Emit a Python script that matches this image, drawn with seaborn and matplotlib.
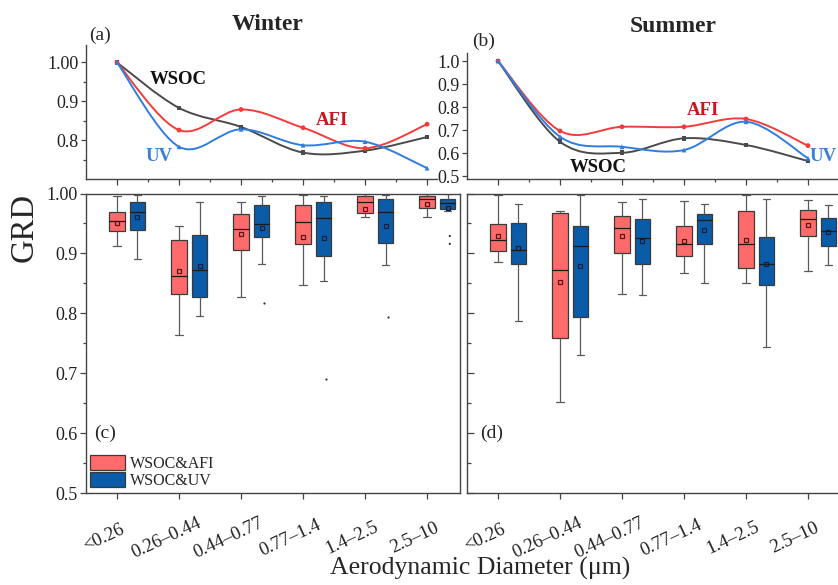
import numpy as np
import pandas as pd
import seaborn as sns
import matplotlib.pyplot as plt
import matplotlib.transforms as mtransforms
from matplotlib.path import Path
from matplotlib.patches import PathPatch
from matplotlib.ticker import FixedLocator, NullFormatter

sizes = ["<0.26", "0.26–0.44", "0.44–0.77", "0.77–1.4", "1.4–2.5", "2.5–10"]
series = ["WSOC", "AFI", "UV"]
pairs = ["WSOC&AFI", "WSOC&UV"]

# normalised lines (top panels)
winter_wsoc = [1.00, 0.883, 0.834, 0.768, 0.773, 0.808]
winter_afi = [1.00, 0.826, 0.879, 0.832, 0.779, 0.841]
winter_uv = [1.00, 0.783, 0.828, 0.787, 0.796, 0.728]
summer_wsoc = [1.00, 0.649, 0.601, 0.664, 0.635, 0.565]
summer_afi = [1.00, 0.696, 0.714, 0.714, 0.748, 0.632]
summer_uv = [1.00, 0.671, 0.627, 0.613, 0.736, 0.577]

# box stats: (lower whisker, q1, median, q3, upper whisker)
winter_afi_box = [(0.913, 0.937, 0.954, 0.969, 0.996), (0.763, 0.832, 0.862, 0.923, 0.945),
                  (0.827, 0.905, 0.940, 0.966, 0.985), (0.847, 0.915, 0.952, 0.980, 0.997),
                  (0.960, 0.968, 0.985, 0.995, 0.999), (0.960, 0.975, 0.990, 0.995, 0.999)]
winter_uv_box = [(0.890, 0.939, 0.969, 0.986, 0.997), (0.796, 0.828, 0.873, 0.931, 0.986),
                 (0.882, 0.928, 0.949, 0.980, 0.996), (0.854, 0.896, 0.959, 0.986, 0.996),
                 (0.881, 0.918, 0.969, 0.990, 0.997), (0.971, 0.974, 0.984, 0.990, 0.999)]
summer_afi_box = [(0.885, 0.904, 0.922, 0.949, 0.997), (0.652, 0.759, 0.873, 0.967, 0.970),
                  (0.833, 0.900, 0.942, 0.963, 0.985), (0.867, 0.895, 0.916, 0.945, 0.988),
                  (0.850, 0.875, 0.916, 0.970, 0.997), (0.871, 0.929, 0.957, 0.972, 0.989)]
summer_uv_box = [(0.787, 0.883, 0.905, 0.951, 0.982), (0.730, 0.793, 0.912, 0.945, 0.997),
                 (0.831, 0.883, 0.926, 0.957, 0.991), (0.850, 0.915, 0.955, 0.966, 0.982),
                 (0.744, 0.848, 0.883, 0.927, 0.991), (0.881, 0.913, 0.938, 0.959, 0.980)]

winter_afi_mean = [0.950, 0.871, 0.932, 0.927, 0.974, 0.982]
winter_uv_mean = [0.961, 0.879, 0.942, 0.926, 0.946, 0.975]
summer_afi_mean = [0.929, 0.853, 0.929, 0.921, 0.922, 0.947]
summer_uv_mean = [0.909, 0.879, 0.921, 0.939, 0.882, 0.935]

# outliers (all in the WSOC&UV group, winter)
winter_uv_out_size = ["0.44–0.77", "0.77–1.4", "1.4–2.5", "2.5–10", "2.5–10"]
winter_uv_out = [0.817, 0.690, 0.794, 0.929, 0.916]

line_colors = {"WSOC": "#4a4a4a", "AFI": "#f23c3c", "UV": "#2f7de1"}
label_colors = {"WSOC": "#111111", "AFI": "#c8161d", "UV": "#3a7fd5"}
box_colors = {"WSOC&AFI": "#ff6b6b", "WSOC&UV": "#0b5ca8"}

sns.set_theme(style="ticks")
plt.rcParams["font.family"] = ["Liberation Serif", "DejaVu Serif"]
plt.rcParams["axes.edgecolor"] = "#444444"
plt.rcParams["axes.linewidth"] = 1.0
plt.rcParams["xtick.color"] = "#444444"
plt.rcParams["ytick.color"] = "#444444"
plt.rcParams["xtick.labelcolor"] = "#222222"
plt.rcParams["ytick.labelcolor"] = "#222222"

W, H = 838, 585
fig = plt.figure(figsize=(W / 100, H / 100), dpi=100)


def add_ax(l, t, r, b):
    return fig.add_axes([l / W, 1 - b / H, (r - l) / W, (b - t) / H])


def smooth_path(xs, ys):
    # smooth (Catmull-Rom style) connection through the data points
    p = np.column_stack([xs, ys]).astype(float)
    ext = np.vstack([p[0], p, p[-1]])
    verts, codes = [p[0]], [Path.MOVETO]
    for i in range(len(p) - 1):
        p0, p1, p2, p3 = ext[i], ext[i + 1], ext[i + 2], ext[i + 3]
        verts += [p1 + (p2 - p0) / 6, p2 - (p3 - p1) / 6, p2]
        codes += [Path.CURVE4] * 3
    return Path(verts, codes)


ax_a = add_ax(86, 45, 437, 179)
ax_b = add_ax(467, 53, 840, 179)
ax_c = add_ax(86, 193.5, 460, 493)
ax_d = add_ax(467, 193.5, 840, 493)

# ---- top: line panels
for ax, vals in [(ax_a, [winter_wsoc, winter_afi, winter_uv]),
                 (ax_b, [summer_wsoc, summer_afi, summer_uv])]:
    df = pd.DataFrame({"pos": np.tile(np.arange(len(sizes)), 3),
                       "series": np.repeat(series, len(sizes)),
                       "GRD": np.concatenate(vals)})
    for s in series:
        sub = df[df["series"] == s]
        ax.add_patch(PathPatch(smooth_path(sub["pos"], sub["GRD"]), fill=False,
                               edgecolor=line_colors[s], lw=1.4, zorder=2))
    sns.scatterplot(data=df, x="pos", y="GRD", hue="series", style="series",
                    markers={"WSOC": "s", "AFI": "o", "UV": "^"}, palette=line_colors,
                    s=12, linewidth=0, legend=False, ax=ax, zorder=3)
    ax.spines[["top", "right"]].set_visible(False)
    ax.set_xlabel("")
    ax.set_ylabel("")
    ax.xaxis.set_major_locator(FixedLocator(np.arange(len(sizes))))
    ax.xaxis.set_minor_locator(FixedLocator(np.arange(len(sizes)) + 0.5))
    ax.xaxis.set_major_formatter(NullFormatter())
    ax.tick_params(axis="x", which="major", length=4, width=0.9)
    ax.tick_params(axis="x", which="minor", length=2.5, width=0.9)
    ax.tick_params(axis="y", which="both", labelsize=13, length=3.5, width=0.9, pad=2)

ax_a.set_xlim(-0.5, 5.16)
ax_a.set_ylim(0.70, 1.045)
ax_a.yaxis.set_major_locator(FixedLocator([0.8, 0.9, 1.0]))
ax_a.set_yticklabels(["0.8", "0.9", "1.00"])
ax_a.yaxis.set_minor_locator(FixedLocator([0.75, 0.85, 0.95]))
ax_a.tick_params(axis="y", which="minor", length=2)

ax_b.set_xlim(-0.5, 5.516)
ax_b.set_ylim(0.487, 1.035)
ax_b.yaxis.set_major_locator(FixedLocator([0.5, 0.6, 0.7, 0.8, 0.9, 1.0]))
ax_b.set_yticklabels(["0.5", "0.6", "0.7", "0.8", "0.9", "1.0"])

lab_kw = dict(fontsize=13.5, fontweight="bold", ha="center", va="center")
ax_a.text(0.98, 0.956, "WSOC", color=label_colors["WSOC"], **lab_kw)
ax_a.text(3.46, 0.851, "AFI", color=label_colors["AFI"], **lab_kw)
ax_a.text(0.675, 0.759, "UV", color=label_colors["UV"], **lab_kw)
ax_b.text(3.31, 0.787, "AFI", color=label_colors["AFI"], **lab_kw)
ax_b.text(1.61, 0.535, "WSOC", color=label_colors["WSOC"], **lab_kw)
ax_b.text(5.03, 0.583, "UV", color=label_colors["UV"], **{**lab_kw, "ha": "left"})


# ---- bottom: box panels
def box_frame(afi_box, uv_box):
    rows = []
    for pair, stats in [("WSOC&AFI", afi_box), ("WSOC&UV", uv_box)]:
        for size, st in zip(sizes, stats):
            for v in st:
                rows.append((size, pair, v))
    return pd.DataFrame(rows, columns=["size", "pair", "GRD"])


def mean_frame(afi_mean, uv_mean):
    return pd.DataFrame({"size": sizes * 2,
                         "pair": np.repeat(pairs, len(sizes)),
                         "GRD": afi_mean + uv_mean})


panels = [(ax_c, winter_afi_box, winter_uv_box, winter_afi_mean, winter_uv_mean, True),
          (ax_d, summer_afi_box, summer_uv_box, summer_afi_mean, summer_uv_mean, False)]
for ax, afi_box, uv_box, afi_mean, uv_mean, show_leg in panels:
    sns.boxplot(data=box_frame(afi_box, uv_box), x="size", y="GRD", hue="pair",
                order=sizes, hue_order=pairs, palette=box_colors, saturation=1,
                width=0.66, gap=0.24, whis=(0, 100), showfliers=False,
                linecolor="#3a3a3a", linewidth=0.9,
                whiskerprops={"color": "#5a5a5a"}, capprops={"color": "#5a5a5a"},
                medianprops={"color": "#1a1a1a"},
                legend=show_leg, ax=ax)
    sns.pointplot(data=mean_frame(afi_mean, uv_mean), x="size", y="GRD", hue="pair",
                  order=sizes, hue_order=pairs, dodge=0.33, linestyle="none",
                  marker="s", markersize=3.4, markerfacecolor="none",
                  markeredgewidth=0.9, errorbar=None,
                  palette={"WSOC&AFI": "#5a1616", "WSOC&UV": "#0d1f3a"},
                  legend=False, ax=ax)
    ax.set_xlabel("")
    ax.set_ylabel("")
    ax.set_ylim(0.5, 1.0)
    ax.set_xlim(-0.665, 5.365 if ax is ax_c else 5.351)
    ax.set_xticks(np.arange(len(sizes)) - 0.165)
    ax.set_xticklabels(sizes, rotation=25, ha="center", va="center",
                       rotation_mode="anchor", fontsize=13.5)
    ax.tick_params(axis="x", length=4, width=0.9, pad=28.4)
    ax.yaxis.set_major_locator(FixedLocator([0.5, 0.6, 0.7, 0.8, 0.9, 1.0]))
    ax.yaxis.set_minor_locator(FixedLocator([0.55, 0.65, 0.75, 0.85, 0.95]))
    offset = mtransforms.ScaledTranslation(-13 / 100, 0, fig.dpi_scale_trans)
    for lab in ax.get_xticklabels():
        lab.set_transform(lab.get_transform() + offset)
    for sp in ax.spines.values():
        sp.set_visible(True)

sns.stripplot(x=winter_uv_out_size, y=winter_uv_out, hue=["WSOC&UV"] * len(winter_uv_out),
              order=sizes, hue_order=pairs, dodge=True, jitter=False, size=1.6,
              palette={"WSOC&AFI": "#333333", "WSOC&UV": "#333333"}, legend=False, ax=ax_c)
ax_c.set_xlim(-0.665, 5.365)
ax_c.set_ylim(0.5, 1.0)

ax_c.set_yticklabels(["0.5", "0.6", "0.7", "0.8", "0.9", "1.00"])
ax_c.tick_params(axis="y", which="major", labelsize=13, length=4, width=0.9, pad=2)
ax_c.tick_params(axis="y", which="minor", length=2.5, width=0.9)
ax_d.yaxis.set_major_formatter(NullFormatter())
ax_d.tick_params(axis="y", which="both", direction="in", width=0.9)
ax_d.tick_params(axis="y", which="major", length=5)
ax_d.tick_params(axis="y", which="minor", length=3)

sns.move_legend(ax_c, "lower left", bbox_to_anchor=(0.0, 0.0), title=None, frameon=False,
                fontsize=11.5, handlelength=2.2, handleheight=1.05, labelspacing=0.0,
                handletextpad=0.3, borderaxespad=0.15, borderpad=0.1)

# ---- figure text
fig.text(268 / W, 1 - 24 / H, "Winter", fontsize=17, fontweight="bold", ha="center", va="center")
fig.text(673 / W, 1 - 26 / H, "Summer", fontsize=17, fontweight="bold", ha="center", va="center")
for txt, x, y in [("(a)", 100, 35), ("(b)", 484, 41), ("(c)", 105, 433), ("(d)", 492, 433)]:
    fig.text(x / W, 1 - y / H, txt, fontsize=14, ha="center", va="center")
fig.text(24 / W, 1 - 227 / H, "GRD", fontsize=23.5, rotation=90, ha="center", va="center")
fig.text(480 / W, 1 - 568 / H, "Aerodynamic Diameter (μm)", fontsize=18.5,
         ha="center", va="center")

fig.savefig("out.png", dpi=100)
